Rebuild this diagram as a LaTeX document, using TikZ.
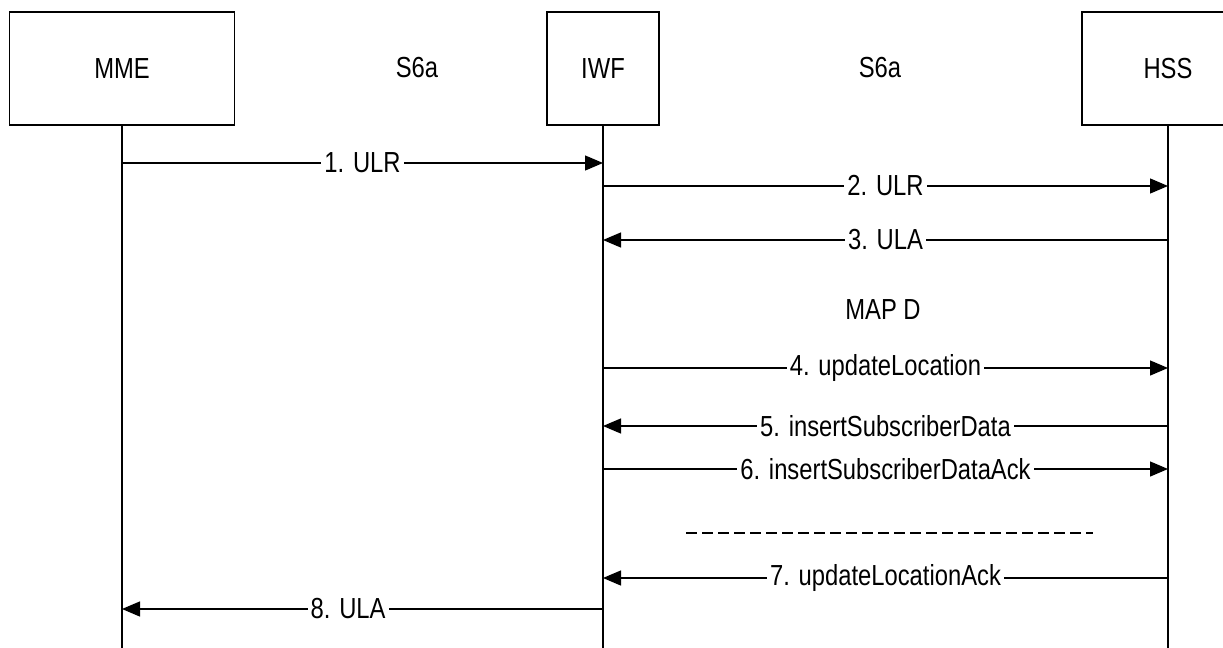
\documentclass[tikz,border=0pt]{standalone}
\usepackage{fontspec}
\setmainfont{Liberation Sans}[FakeStretch=0.82]
\usetikzlibrary{arrows.meta}
\usetikzlibrary{calc}

\begin{document}
\begin{tikzpicture}[x=0.5pt, y=-0.5pt, line width=0.65pt,
    font=\fontsize{14.5}{17}\selectfont,
    entity/.style={draw, minimum height=56.5pt, inner sep=0pt},
    msg/.style={-{Triangle[length=9pt, width=7.5pt]}},
    lbl/.style={fill=white, inner xsep=1.5pt, inner ysep=1pt}]
    \clip (0, 0) rectangle (1223, 648);

    \node[entity, minimum width=112.5pt] (mme) at (122, 68.5) {MME};
    \node[entity, minimum width=56pt] (iwf) at (603, 68.5) {IWF};
    \node[entity, minimum width=86pt] (hss) at (1168, 68.5) {HSS};

    \node (ifA) at (417, 68) {S6a};
    \node (ifB) at (880, 68) {S6a};
    \node (ifC) at (883, 310) {MAP D};

    \coordinate (mmeEnd) at (mme.south |- 0,648);
    \coordinate (iwfEnd) at (iwf.south |- 0,648);
    \coordinate (hssEnd) at (hss.south |- 0,648);
    \draw (mme.south) -- (mmeEnd);
    \draw (iwf.south) -- (iwfEnd);
    \draw (hss.south) -- (hssEnd);

    \draw[msg] (mme.south |- 0,163) -- node[lbl] {1. ULR} (iwf.south |- 0,163);
    \draw[msg] (iwf.south |- 0,186) -- node[lbl] {2. ULR} (hss.south |- 0,186);
    \draw[msg] (hss.south |- 0,240) -- node[lbl] {3. ULA} (iwf.south |- 0,240);
    \draw[msg] (iwf.south |- 0,368) -- node[lbl] {4. updateLocation} (hss.south |- 0,368);
    \draw[msg] (hss.south |- 0,426) -- node[lbl] {5. insertSubscriberData} (iwf.south |- 0,426);
    \draw[msg] (iwf.south |- 0,469) -- node[lbl] {6. insertSubscriberDataAck} (hss.south |- 0,469);

    \draw[line width=0.9pt, dash pattern=on 5.5pt off 2.5pt] (686, 533) -- (1093, 533);

    \draw[msg] (hss.south |- 0,578) -- node[lbl] {7. updateLocationAck} (iwf.south |- 0,578);
    \draw[msg] (iwf.south |- 0,609) -- node[lbl, pos=0.53] {8. ULA} (mme.south |- 0,609);
\end{tikzpicture}
\end{document}
